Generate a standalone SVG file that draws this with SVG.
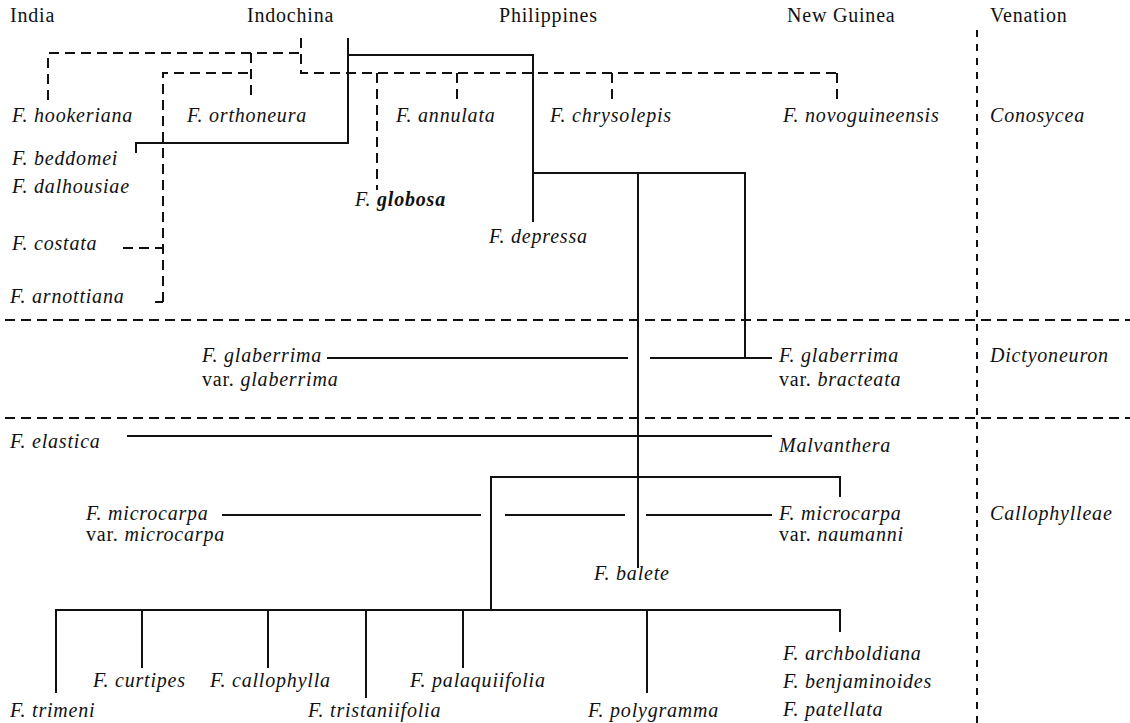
<svg xmlns="http://www.w3.org/2000/svg" width="1130" height="723" viewBox="0 0 1130 723">
<style>
text{font-family:"Liberation Serif","Times New Roman",serif;font-size:20px;fill:#111;letter-spacing:0.8px}
.i{font-style:italic}
.b{font-weight:bold}
.s{stroke:#111;stroke-width:2;fill:none}
.d{stroke:#111;stroke-width:2;fill:none;stroke-dasharray:10 6}
.v{stroke:#111;stroke-width:2;fill:none;stroke-dasharray:7 7}
</style>
<rect width="1130" height="723" fill="#fff"/>
<g id="headers" font-family="'Liberation Serif', 'Times New Roman', serif">
<text x="10" y="22">India</text>
<text x="247" y="22">Indochina</text>
<text x="499" y="22">Philippines</text>
<text x="787" y="22">New Guinea</text>
<text x="990" y="22">Venation</text>
</g>
<g id="connectors">
<path class="d" d="M48 100 V53 H301"/>
<path class="d" d="M251 53 V100"/>
<path class="d" d="M301 38 V73 H837"/>
<path class="d" d="M163 302 V73 H251"/>
<path class="d" d="M377 73 V190"/>
<path class="d" d="M457 73 V100"/>
<path class="d" d="M612 73 V100"/>
<path class="d" d="M837 73 V100"/>
<path class="d" d="M123 248 H163"/>
<path class="s" d="M155 302 H163"/>
<path class="s" d="M348 38 V143 H136 V153"/>
<path class="s" d="M348 55 H533 V222"/>
<path class="s" d="M533 173 H745 V358"/>
<path class="s" d="M638 173 V568"/>
<path class="s" d="M327 358 H628"/>
<path class="s" d="M650 358 H772"/>
<path class="s" d="M127 436 H772"/>
<path class="s" d="M491 610 V477 H840 V497"/>
<path class="s" d="M222 515 H481"/>
<path class="s" d="M505 515 H625"/>
<path class="s" d="M646 515 H772"/>
<path class="s" d="M56 693 V610 H840 V632"/>
<path class="s" d="M142 610 V668"/>
<path class="s" d="M268 610 V668"/>
<path class="s" d="M366 610 V698"/>
<path class="s" d="M463 610 V668"/>
<path class="s" d="M647 610 V693"/>
<path class="d" d="M5 320 H1130"/>
<path class="d" d="M5 418 H1130"/>
<path class="v" d="M977 30 V723"/>
</g>
<g id="hookeriana"><text class="i" x="12" y="122">F. hookeriana</text></g>
<g id="orthoneura"><text class="i" x="187" y="122">F. orthoneura</text></g>
<g id="annulata"><text class="i" x="396" y="122">F. annulata</text></g>
<g id="chrysolepis"><text class="i" x="550" y="122">F. chrysolepis</text></g>
<g id="novoguineensis"><text class="i" x="783" y="122">F. novoguineensis</text></g>
<g id="conosycea"><text class="i" x="990" y="122">Conosycea</text></g>
<g id="beddomei"><text class="i" x="12" y="165">F. beddomei</text></g>
<g id="dalhousiae"><text class="i" x="12" y="193">F. dalhousiae</text></g>
<g id="globosa"><text class="i" x="355" y="206">F. <tspan class="b">globosa</tspan></text></g>
<g id="costata"><text class="i" x="12" y="250">F. costata</text></g>
<g id="arnottiana"><text class="i" x="10" y="303">F. arnottiana</text></g>
<g id="depressa"><text class="i" x="489" y="243">F. depressa</text></g>
<g id="glaberrima-glaberrima"><text class="i" x="202" y="362">F. glaberrima</text><text x="202" y="386">var. <tspan class="i">glaberrima</tspan></text></g>
<g id="glaberrima-bracteata"><text class="i" x="779" y="362">F. glaberrima</text><text x="779" y="386">var. <tspan class="i">bracteata</tspan></text></g>
<g id="dictyoneuron"><text class="i" x="990" y="362">Dictyoneuron</text></g>
<g id="elastica"><text class="i" x="10" y="448">F. elastica</text></g>
<g id="malvanthera"><text class="i" x="779" y="452">Malvanthera</text></g>
<g id="microcarpa-microcarpa"><text class="i" x="86" y="520">F. microcarpa</text><text x="86" y="541">var. <tspan class="i">microcarpa</tspan></text></g>
<g id="microcarpa-naumanni"><text class="i" x="779" y="520">F. microcarpa</text><text x="779" y="541">var. <tspan class="i">naumanni</tspan></text></g>
<g id="callophylleae"><text class="i" x="990" y="520">Callophylleae</text></g>
<g id="balete"><text class="i" x="594" y="580">F. balete</text></g>
<g id="trimeni"><text class="i" x="10" y="717">F. trimeni</text></g>
<g id="curtipes"><text class="i" x="93" y="687">F. curtipes</text></g>
<g id="callophylla"><text class="i" x="210" y="687">F. callophylla</text></g>
<g id="tristaniifolia"><text class="i" x="308" y="717">F. tristaniifolia</text></g>
<g id="palaquiifolia"><text class="i" x="410" y="687">F. palaquiifolia</text></g>
<g id="polygramma"><text class="i" x="588" y="717">F. polygramma</text></g>
<g id="archboldiana"><text class="i" x="783" y="660">F. archboldiana</text></g>
<g id="benjaminoides"><text class="i" x="783" y="688">F. benjaminoides</text></g>
<g id="patellata"><text class="i" x="783" y="716">F. patellata</text></g>
</svg>
